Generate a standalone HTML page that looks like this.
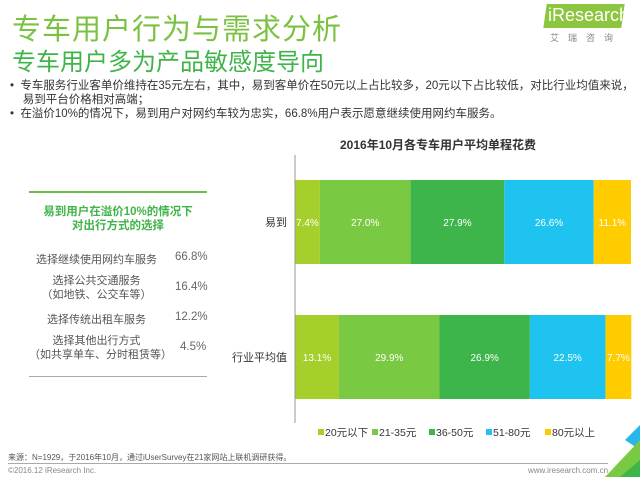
<!DOCTYPE html>
<html><head><meta charset="utf-8">
<style>
body{margin:0;width:640px;height:477px;overflow:hidden;background:#fff;font-family:"Liberation Sans","Noto Sans CJK SC",sans-serif;position:relative}
.a{position:absolute;white-space:nowrap}
</style></head><body>
<div class="a" style="left:12px;top:6px;font-size:29px;color:#7cc242;letter-spacing:1px">专车用户行为与需求分析</div>
<div class="a" style="left:12px;top:42px;font-size:24px;color:#3fb449">专车用户多为产品敏感度导向</div>
<div class="a" style="left:545px;top:4px;width:78px;height:24px;background:#8cc63f;transform:skewX(-8deg);"></div>
<div class="a" style="left:548px;top:5px;font-size:18px;color:#fff">iResearch</div>
<div class="a" style="left:550px;top:31px;font-size:9px;color:#888;letter-spacing:9px">艾瑞咨询</div>
<div class="a" style="left:10px;top:79px;font-size:11.5px;color:#333;line-height:14px">
• &nbsp;专车服务行业客单价维持在35元左右，其中，易到客单价在50元以上占比较多，20元以下占比较低，对比行业均值来说，<br>&nbsp;&nbsp;&nbsp;&nbsp;易到平台价格相对高端；<br>• &nbsp;在溢价10%的情况下，易到用户对网约车较为忠实，66.8%用户表示愿意继续使用网约车服务。</div>
<div class="a" style="left:29px;top:191px;width:178px;height:2px;background:#6cc04a"></div>
<div class="a" style="left:29px;top:205px;width:178px;text-align:center;font-size:11.5px;font-weight:bold;color:#3fb449;line-height:14px">易到用户在溢价10%的情况下<br>对出行方式的选择</div>
<div class="a" style="left:29px;top:251px;width:135px;text-align:center;font-size:11px;color:#555">选择继续使用网约车服务</div>
<div class="a" style="left:175px;top:251px;font-size:11.5px;color:#666">66.8%</div>
<div class="a" style="left:29px;top:274px;width:135px;text-align:center;font-size:11px;color:#555;line-height:14px">选择公共交通服务<br>（如地铁、公交车等）</div>
<div class="a" style="left:175px;top:281px;font-size:11.5px;color:#666">16.4%</div>
<div class="a" style="left:29px;top:311px;width:135px;text-align:center;font-size:11px;color:#555">选择传统出租车服务</div>
<div class="a" style="left:175px;top:311px;font-size:11.5px;color:#666">12.2%</div>
<div class="a" style="left:29px;top:334px;width:135px;text-align:center;font-size:11px;color:#555;line-height:14px">选择其他出行方式<br>（如共享单车、分时租赁等）</div>
<div class="a" style="left:180px;top:341px;font-size:11.5px;color:#666">4.5%</div>
<div class="a" style="left:29px;top:376px;width:178px;height:1px;background:#aaa"></div>
<div class="a" style="left:340px;top:136px;font-size:12px;font-weight:bold;color:#333">2016年10月各专车用户平均单程花费</div>
<svg id="chart" class="a" style="left:0;top:0" width="640" height="477"></svg>
<div class="a" style="left:8px;top:452px;font-size:8px;color:#555">来源：N=1929，于2016年10月，通过iUserSurvey在21家网站上联机调研获得。</div>
<div class="a" style="left:8px;top:463px;width:600px;height:1px;background:#aaa"></div>
<div class="a" style="left:8px;top:466px;font-size:8px;color:#888">©2016.12 iResearch Inc.</div>
<div class="a" style="left:528px;top:466px;font-size:8px;color:#888">www.iresearch.com.cn</div>
<svg class="a" style="left:600px;top:420px" width="40" height="57"><polygon points="40,5 40,30 25,20" fill="#29b6e8"/><polygon points="40,20 40,57 5,57" fill="#7ac943"/><polygon points="40,40 40,57 20,57" fill="#3eb54a"/></svg>
<script>
const categories=["易到","行业平均值"];
const seriesNames=["20元以下","21-35元","36-50元","51-80元","80元以上"];
const s1=[7.4,13.1];
const s2=[27.0,29.9];
const s3=[27.9,26.9];
const s4=[26.6,22.5];
const s5=[11.1,7.7];
const colors=["#a5cf2a","#7ac943","#3eb54a","#1ec4ef","#ffcc00"];
const series=[s1,s2,s3,s4,s5];
const NS="http://www.w3.org/2000/svg";
const svg=document.getElementById('chart');
const x0=295,xs=3.36;
const X=v=>x0+v*xs;
const rowTop=[180,315],bh=84;
function mk(t,a){const e=document.createElementNS(NS,t);for(const k in a)e.setAttribute(k,a[k]);svg.appendChild(e);return e;}
categories.forEach((c,i)=>{
  let acc=0;
  series.forEach((s,j)=>{
    const r=mk('rect',{x:X(acc),y:rowTop[i],width:s[i]*xs,height:bh,fill:colors[j]});
    
    
    const t=mk('text',{x:X(acc+s[i]/2),y:rowTop[i]+bh/2+4,'text-anchor':'middle','font-size':'10',fill:'#fff'});
    t.textContent=s[i].toFixed(1)+'%';
    
    
    acc+=s[i];
  });
  const l=mk('text',{x:287,y:rowTop[i]+bh/2+4,'text-anchor':'end','font-size':'11',fill:'#333'});
  l.textContent=c;
  
  
});
const ax=mk('line',{x1:295,y1:155,x2:295,y2:423,stroke:'#999','stroke-width':1});


const lx=[318,372,429,486,545];
seriesNames.forEach((n,j)=>{
  const r=mk('rect',{x:lx[j],y:429,width:6,height:6,fill:colors[j]});
  
  
  const t=mk('text',{x:lx[j]+7,y:436,'font-size':'10.5',fill:'#333'});
  t.textContent=n;
  
  
});
</script>
</body></html>
